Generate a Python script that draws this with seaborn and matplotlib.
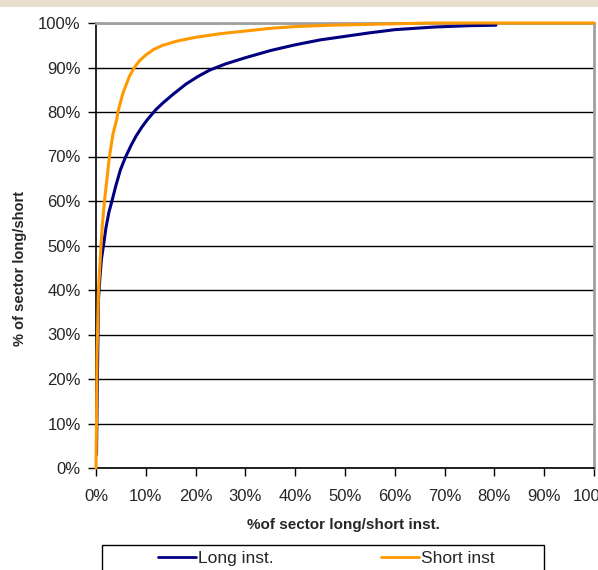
import matplotlib
matplotlib.use('Agg')

import pandas as pd
import matplotlib.pyplot as plt
import seaborn as sns
from matplotlib.patches import Rectangle
from matplotlib.lines import Line2D
from matplotlib.ticker import PercentFormatter

# cumulative share of sector (x, % of instruments) vs share of long/short (y, %)
long_x = [0.1, 0.3, 0.5, 0.8, 1.1, 1.5, 2.0, 2.6, 3.2, 4.0, 4.9, 5.9, 7.0, 8.0, 9.2,
          10.4, 12.0, 13.4, 15.5, 18.1, 20.5, 22.8, 26.0, 30.0, 35.0, 40.0, 45.0,
          50.0, 55.0, 60.0, 68.0, 75.0, 80.3]
long_y = [3.0, 22.0, 38.0, 43.0, 47.0, 50.0, 54.0, 57.5, 60.0, 63.5, 67.0, 69.8, 72.4, 74.5, 76.6,
          78.4, 80.5, 82.0, 84.0, 86.3, 88.0, 89.4, 90.8, 92.2, 93.8, 95.1, 96.2,
          97.0, 97.8, 98.5, 99.1, 99.4, 99.5]

short_x = [0.0, 0.1, 0.2, 0.5, 0.8, 1.0, 1.3, 1.7, 2.2, 2.7, 3.4, 4.2, 4.4, 5.4, 6.7,
           7.7, 8.8, 10.0, 11.5, 13.4, 16.5, 20.1, 25.0, 30.0, 35.0, 40.0, 47.0,
           55.0, 67.0, 100.0]
short_y = [0.0, 10.0, 25.0, 40.0, 46.0, 50.0, 55.0, 60.0, 65.0, 70.0, 75.0, 78.5, 80.0, 84.2, 88.0,
           90.0, 91.6, 92.8, 94.0, 95.0, 96.0, 96.8, 97.6, 98.2, 98.8, 99.2, 99.5,
           99.7, 100.0, 100.0]

series_names = ["Long inst.", "Short inst"]
series_colors = ["#000080", "#FF9900"]

df = pd.concat([
    pd.DataFrame({"x": long_x, "y": long_y, "series": series_names[0]}),
    pd.DataFrame({"x": short_x, "y": short_y, "series": series_names[1]}),
])

sns.set_style("white")
plt.rcParams['font.family'] = ['Liberation Sans', 'DejaVu Sans']

fig = plt.figure(figsize=(5.98, 5.70), dpi=100)
ax = fig.add_axes([96/598, 1 - 468/570, 498/598, 445/570])

sns.lineplot(data=df, x="x", y="y", hue="series", palette=series_colors,
             sort=False, estimator=None, linewidth=2.2, legend=False, ax=ax)
for ln in ax.lines:
    ln.set_zorder(3)
    ln.set_clip_on(False)

ax.set_xlim(0, 100)
ax.set_ylim(0, 100)
ax.set_xticks(range(0, 101, 10))
ax.set_yticks(range(0, 101, 10))
ax.xaxis.set_major_formatter(PercentFormatter(decimals=0))
ax.yaxis.set_major_formatter(PercentFormatter(decimals=0))
ax.tick_params(axis='both', labelsize=12, direction='out', length=6, width=1, color='black')
ax.tick_params(axis='x', pad=9)
ax.tick_params(axis='y', pad=5)
ax.tick_params(left=True, bottom=True)

ax.yaxis.grid(True, color='black', linewidth=1)
ax.set_axisbelow(True)

for side in ['left', 'bottom']:
    ax.spines[side].set_color('black')
    ax.spines[side].set_linewidth(1.2)
for side in ['top', 'right']:
    ax.spines[side].set_color('#A0A0A0')
    ax.spines[side].set_linewidth(2)

ax.set_xlabel("%of sector long/short inst.", fontsize=11, fontweight='bold')
ax.set_ylabel("% of sector long/short", fontsize=10.5, fontweight='bold')
ax.xaxis.set_label_coords(0.497, (468 - 525) / 445)
ax.xaxis.label.set_va('center')
ax.yaxis.set_label_coords((20 - 96) / 498, (468 - 268) / 445)
ax.yaxis.label.set_va('center')

# beige strip at the very top
fig.add_artist(Rectangle((0, 1 - 7/570), 1, 7/570, transform=fig.transFigure,
                         facecolor='#E9DFCE', edgecolor='none'))

# legend box (runs off the bottom edge)
fig.add_artist(Rectangle((102/598, -0.02), (544 - 102)/598, (570 - 545)/570 + 0.02,
                         transform=fig.transFigure, fill=False, edgecolor='black', linewidth=1))
handles = [Line2D([], [], color=c, linewidth=2) for c in series_colors]
fig.legend(handles, series_names, ncol=2, frameon=False, loc='center left',
           bbox_to_anchor=(158/598, 1 - 558/570), borderpad=0, borderaxespad=0,
           handlelength=2.2, handletextpad=0.1, columnspacing=6.2, fontsize=12.5)

fig.savefig("out.png", dpi=100)
